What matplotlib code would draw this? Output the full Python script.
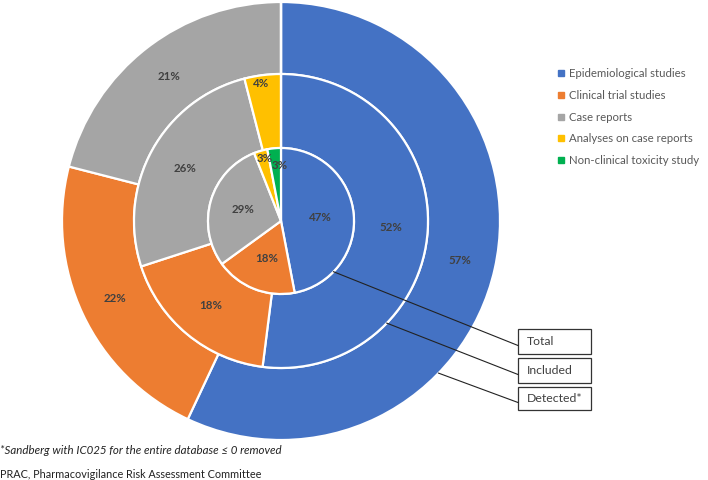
import matplotlib
matplotlib.use("Agg")
import matplotlib.pyplot as plt
from matplotlib.lines import Line2D
import numpy as np

categories = ["Epidemiological studies", "Clinical trial studies", "Case reports",
              "Analyses on case reports", "Non-clinical toxicity study"]
colors = ["#4472C4", "#ED7D31", "#A5A5A5", "#FFC000", "#00B050"]
detected = [57, 22, 21, 0, 0]
included = [52, 18, 26, 4, 0]
total = [47, 18, 29, 3, 3]
ring_names = ["Total", "Included", "Detected*"]

W, H = 708, 480
fig = plt.figure(figsize=(W / 100, H / 100), dpi=100)
ax = fig.add_axes([0, 0, 1, 1])

cx, cy = 281, H - 221
r_out, r_mid, r_in = 219, 147, 73
txt_col = "#404040"
font = ["Lato", "DejaVu Sans"]


def ring(values, radius, width, label_r, small_pos=None):
    wedges, _ = ax.pie(values, radius=radius, center=(cx, cy), startangle=90,
                       counterclock=False, colors=colors,
                       wedgeprops=dict(width=width, edgecolor="white", linewidth=1.6))
    for i, (w, v) in enumerate(zip(wedges, values)):
        if v <= 0:
            continue
        mid = (w.theta1 + w.theta2) / 2
        rr = label_r
        if v < 5:
            rr, dang = (small_pos or {}).get(i, (radius - 9, 0))
            mid += dang
        ang = np.deg2rad(mid)
        ax.text(cx + rr * np.cos(ang), cy + rr * np.sin(ang), f"{v}%",
                ha="center", va="center", fontsize=8.3, fontweight="bold",
                color=txt_col, family=font)


ring(detected, r_out, r_out - r_mid, 183)
ring(included, r_mid, r_mid - r_in, 110, {3: (139, 1)})
ring(total, r_in, r_in, 40, {3: (65, -1.5), 4: (56, -4.5)})

ax.set_xlim(0, W)
ax.set_ylim(0, H)
ax.set_aspect("equal")
ax.axis("off")

# callout boxes
box_x0, box_w = 518, 73
box_tops = [329, 358, 387]
box_h = [25, 25, 23]
radii = [r_in, r_mid, r_out]
angle = np.deg2rad(-44)
for name, top, h, rr in zip(ring_names, box_tops, box_h, radii):
    ax.add_patch(plt.Rectangle((box_x0, H - top - h), box_w, h, fill=False,
                               edgecolor="#333333", linewidth=0.9))
    ax.text(box_x0 + 9, H - top - h / 2, name, ha="left", va="center",
            fontsize=8.8, color=txt_col, family=font)
    sx, sy = cx + rr * np.cos(angle), cy + rr * np.sin(angle)
    ax.plot([sx, box_x0], [sy, H - top - h / 2 - 4], color="#222222", linewidth=0.8)

handles = [Line2D([], [], marker="s", linestyle="none", markersize=5,
                  markerfacecolor=c, markeredgecolor=c) for c in colors]
leg = ax.legend(handles, categories, loc="upper left",
                bbox_to_anchor=(550 / W, 1 - 60 / H), frameon=False,
                handlelength=0.6, handletextpad=0.4, labelspacing=0.95,
                borderaxespad=0.3,
                prop={"family": font, "size": 8.2})
for t in leg.get_texts():
    t.set_color("#595959")

fig.text(0 / W, 1 - 450 / H, "*Sandberg with IC025 for the entire database \u2264 0 removed",
         ha="left", va="center", fontsize=8.3, style="italic", color="#222222", family=font)
fig.text(0 / W, 1 - 474 / H, "PRAC, Pharmacovigilance Risk Assessment Committee",
         ha="left", va="center", fontsize=7.8, color="#222222", family=font)

fig.savefig("out.png", dpi=100)
